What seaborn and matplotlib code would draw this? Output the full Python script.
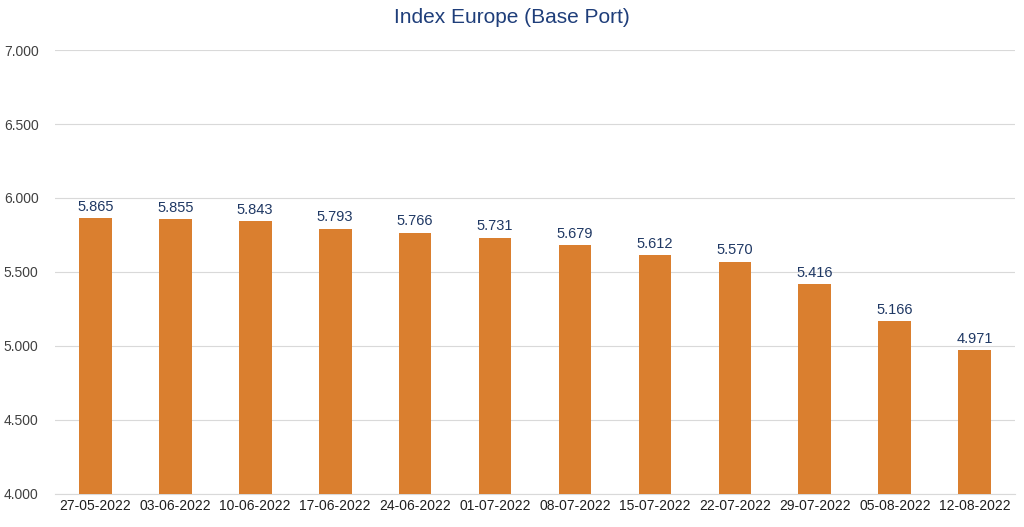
import pandas as pd
import matplotlib
matplotlib.use("Agg")
import matplotlib.pyplot as plt
import seaborn as sns

dates = ["27-05-2022", "03-06-2022", "10-06-2022", "17-06-2022", "24-06-2022", "01-07-2022",
         "08-07-2022", "15-07-2022", "22-07-2022", "29-07-2022", "05-08-2022", "12-08-2022"]
values = [5.865, 5.855, 5.843, 5.793, 5.766, 5.731, 5.679, 5.612, 5.570, 5.416, 5.166, 4.971]
yticks = [4.0, 4.5, 5.0, 5.5, 6.0, 6.5, 7.0]

df = pd.DataFrame({"date": dates, "value": values})

plt.rcParams["font.family"] = "Liberation Sans"
fig = plt.figure(figsize=(10.24, 5.27), dpi=100)
ax = fig.add_axes([0.054, 0.063, 0.937, 0.842])

sns.barplot(data=df, x="date", y="value", color="#DA7F2F", saturation=1, width=0.41, ax=ax, zorder=3)

for i, v in enumerate(values):
    ax.text(i, v + 0.03, f"{v:.3f}", ha="center", va="bottom", fontsize=10.5, color="#1F3864")

ax.set_ylim(4.0, 7.0)
ax.set_yticks(yticks)
ax.set_yticklabels([f"{t:.3f}" for t in yticks], fontsize=10, color="#404040")
ax.tick_params(axis="x", labelsize=10, colors="#1F1F1F", length=0)
ax.tick_params(axis="y", length=0, pad=12)
ax.grid(axis="y", color="#D9D9D9", linewidth=0.8, zorder=0)
ax.set_xlabel("")
ax.set_ylabel("")
for s in ["top", "right", "left"]:
    ax.spines[s].set_visible(False)
ax.spines["bottom"].set_color("#D9D9D9")
ax.set_xlim(-0.5, len(dates) - 0.5)

fig.suptitle("Index Europe (Base Port)", y=0.985, fontsize=15, color="#1F3E7A")
fig.savefig("out.png", dpi=100)
